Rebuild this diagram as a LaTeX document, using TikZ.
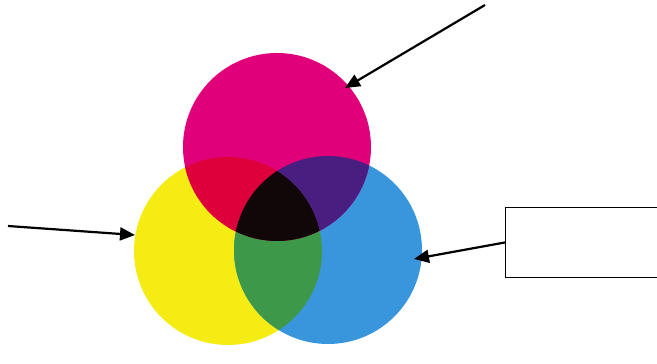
\documentclass[tikz,border=0pt]{standalone}
\usetikzlibrary{arrows.meta}
\definecolor{mag}{RGB}{224,0,122}
\definecolor{yel}{RGB}{245,236,20}
\definecolor{cya}{RGB}{58,150,220}
\definecolor{redx}{RGB}{222,0,58}
\definecolor{pur}{RGB}{72,30,128}
\definecolor{grn}{RGB}{62,152,74}
\definecolor{blk}{RGB}{16,8,8}
\begin{document}
\begin{tikzpicture}[x=1pt,y=-1pt,
  arr/.style={line width=2.2pt,-{Triangle[length=15pt,width=13pt]}},
  disc/.style={circle,inner sep=0pt,minimum size=188pt}]
\useasboundingbox (0,0) rectangle (657,364);
\node[disc,fill=yel] (Y) at (228,251) {};
\node[disc,fill=cya] (C) at (328,250) {};
\node[disc,fill=mag] (M) at (277,147) {};
\begin{scope}
  \clip (Y.center) circle[radius=94pt];
  \fill[grn] (C.center) circle[radius=94pt];
  \clip (M.center) circle[radius=94pt];
  \fill[redx] (Y.center) circle[radius=94pt];
  \fill[blk] (C.center) circle[radius=94pt];
\end{scope}
\begin{scope}
  \clip (M.center) circle[radius=94pt];
  \clip (C.center) circle[radius=94pt];
  \fill[pur,even odd rule] (Y.center) circle[radius=94pt] (-10,-10) rectangle (700,400);
\end{scope}
\node[draw,line width=0.9pt,minimum width=170pt,minimum height=70pt,anchor=north west,inner sep=0pt] (B) at (505,207) {};
\coordinate (t1) at (485,5);
\coordinate (h1) at (345,88);
\coordinate (t2) at (8,226);
\coordinate (h2) at (135,235);
\coordinate (h3) at (414,259);
\draw[arr] (t1) -- (h1);
\draw[arr] (t2) -- (h2);
\draw[arr] (B.west) -- (h3);
\end{tikzpicture}
\end{document}
